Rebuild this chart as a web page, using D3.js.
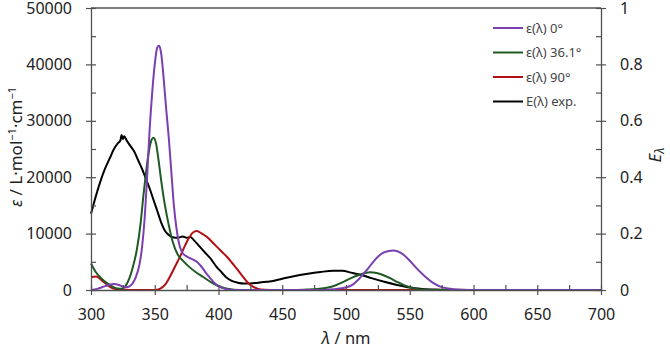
<!DOCTYPE html>
<html>
<head>
<meta charset="utf-8">
<script src="https://cdn.jsdelivr.net/npm/d3@7"></script>
<style>
  body { margin: 0; background: #fff; }
  svg { font-family: "Noto Sans", "Open Sans", sans-serif; }
</style>
</head>
<body>
<svg id="chart" width="670" height="350"></svg>
<script>
// wavelengths (nm) and values
const purpleNm = [300,305,310,314,318,322,326,329,332,335,338,340,342,344,346,348,350,352,353.5,355,357,359,361,363,365,367,369,371,374,377,380,383,386,389,392,395,398,402,406,412,420,480,490,500,505,510,515,520,525,530,537,543,550,556,562,568,574,580,590,600,700];
const purpleEps = [0,200,600,900,1050,900,500,550,1000,2200,4500,7500,12500,20000,28500,35000,40000,43000,43300,42000,37500,32000,27000,21000,15000,11000,8300,6900,6100,5700,5400,5000,4300,3400,2500,1700,1000,450,150,20,0,0,150,450,900,1900,3200,4600,5900,6700,7000,6600,5200,3700,2400,1300,600,250,50,0,0];

const greenNm = [300,304,308,312,317,321,324,327,330,333,336,339,341,343,345,347,349,351,353,355,358,361,364,368,372,377,382,388,394,399,405,412,420,460,470,478,485,492,498,504,510,515,519,524,529,535,540,545,550,556,563,570,700];
const greenEps = [4700,3100,2100,1300,600,250,200,700,2000,4200,7200,12000,16500,20500,24000,26300,27000,26000,23000,19500,15000,11500,8600,6300,5200,4100,3200,2300,1400,800,300,60,0,0,80,200,400,850,1450,2100,2650,3000,3130,3000,2650,2050,1450,900,480,200,60,0,0];

const redNm = [300,304,307,310,314,317,322,330,350,354,358,362,366,370,374,377,380,383,387,391,395,399,403,407,411,415,419,423,427,431,436,445,700];
const redEps = [2300,2400,2000,1400,700,300,80,0,0,200,900,2400,4200,6000,8000,9300,10200,10450,10000,9400,8500,7600,6700,5800,4700,3600,2400,1300,600,200,50,0,0];

// experimental E(lambda), right axis
const expNm = [300,303,307,311,315,318,321,323,324,325,326,328,331,334,337,340,343,346,349,352,355,358,361,364,368,372,375,378,381,384,387,390,394,398,402,406,410,415,420,425,430,435,440,450,460,470,480,490,497,505,513,520,530,540,550,560,570,580,600,700];
const expE = [0.27,0.32,0.38,0.43,0.47,0.50,0.52,0.53,0.55,0.535,0.545,0.53,0.51,0.49,0.46,0.43,0.395,0.36,0.32,0.28,0.24,0.21,0.195,0.187,0.185,0.19,0.185,0.188,0.175,0.16,0.145,0.13,0.11,0.085,0.065,0.045,0.033,0.026,0.023,0.023,0.025,0.028,0.03,0.04,0.05,0.058,0.064,0.068,0.068,0.06,0.052,0.042,0.029,0.018,0.009,0.004,0.0016,0.0005,0,0];

const xTicks = [300,350,400,450,500,550,600,650,700];
const yTicks = [0,10000,20000,30000,40000,50000];
const eTicks = [0,0.2,0.4,0.6,0.8,1];

const legendLabels = ["ε(λ) 0°", "ε(λ) 36.1°", "ε(λ) 90°", "E(λ) exp."];
const colors = ["#7a3fb0", "#1f5a25", "#b30f12", "#000000"];

const svg = d3.select("#chart");
const L = 91, R = 601, T = 8, B = 290;
const axisColor = "#505050";

const x = d3.scaleLinear().domain([300, 700]).range([L, R]);
const y = d3.scaleLinear().domain([0, 50000]).range([B, T]);
const yE = d3.scaleLinear().domain([0, 1]).range([B, T]);

// top border
svg.append("line").attr("x1", L).attr("x2", R).attr("y1", T).attr("y2", T)
  .attr("stroke", axisColor).attr("stroke-width", 1.3);

// curves
function drawLine(nm, vals, scale, color) {
  const pts = nm.map((d, i) => [d, vals[i]]);
  svg.append("path")
    .datum(pts)
    .attr("fill", "none")
    .attr("stroke", color)
    .attr("stroke-width", 2)
    .attr("stroke-linejoin", "round")
    .attr("d", d3.line().x(d => x(d[0])).y(d => scale(d[1])).curve(d3.curveMonotoneX));
}
drawLine(expNm, expE, yE, colors[3]);
drawLine(redNm, redEps, y, colors[2]);
drawLine(greenNm, greenEps, y, colors[1]);
drawLine(purpleNm, purpleEps, y, colors[0]);

function styleAxis(g) {
  g.select(".domain").attr("stroke", axisColor).attr("stroke-width", 1.3);
  g.selectAll(".tick line").attr("stroke", axisColor).attr("stroke-width", 1.2);
  g.selectAll(".tick text").attr("fill", "#222").style("font-size", "16px")
    .style("font-family", "'Noto Sans', 'Open Sans', sans-serif");
}

// x axis: minor ticks inside, major crossing
const xMinor = d3.range(325, 700, 50);
svg.append("g").attr("transform", `translate(0,${B})`)
  .call(d3.axisBottom(x).tickValues(xMinor).tickSize(-5).tickFormat(""))
  .call(g => { g.select(".domain").remove(); g.selectAll(".tick line").attr("stroke", axisColor).attr("stroke-width", 1.2); });
const gx = svg.append("g").attr("transform", `translate(0,${B})`)
  .call(d3.axisBottom(x).tickValues(xTicks).tickSize(5).tickSizeOuter(0).tickPadding(14));
gx.selectAll(".tick line").attr("y1", -5);
styleAxis(gx);

// left axis
svg.append("g").attr("transform", `translate(${L},0)`)
  .call(d3.axisRight(y).tickValues(d3.range(5000, 50000, 10000)).tickSize(5).tickFormat(""))
  .call(g => { g.select(".domain").remove(); g.selectAll(".tick line").attr("stroke", axisColor).attr("stroke-width", 1.2); });
const gy = svg.append("g").attr("transform", `translate(${L},0)`)
  .call(d3.axisLeft(y).tickValues(yTicks).tickSize(5).tickSizeOuter(0).tickPadding(14).tickFormat(d3.format("d")));
gy.selectAll(".tick line").attr("x1", 5);
styleAxis(gy);

// right axis
svg.append("g").attr("transform", `translate(${R},0)`)
  .call(d3.axisLeft(yE).tickValues(d3.range(0.1, 1, 0.2)).tickSize(5).tickFormat(""))
  .call(g => { g.select(".domain").remove(); g.selectAll(".tick line").attr("stroke", axisColor).attr("stroke-width", 1.2); });
const gr = svg.append("g").attr("transform", `translate(${R},0)`)
  .call(d3.axisRight(yE).tickValues(eTicks).tickSize(5).tickSizeOuter(0).tickPadding(14).tickFormat(d => d3.format("")(+d.toFixed(1))));
gr.selectAll(".tick line").attr("x1", -5);
styleAxis(gr);

// axis titles
const xt = svg.append("text").attr("x", (L + R) / 2).attr("y", 344)
  .attr("text-anchor", "middle").attr("fill", "#222").style("font-size", "16.5px");
xt.append("tspan").attr("font-style", "italic").text("λ");
xt.append("tspan").text(" / nm");

const yt = svg.append("text").attr("transform", "translate(22,147) rotate(-90)")
  .attr("text-anchor", "middle").attr("fill", "#222").style("font-size", "17px");
yt.append("tspan").attr("font-style", "italic").text("ε");
yt.append("tspan").text(" / L·mol");
yt.append("tspan").attr("dy", -6).style("font-size", "11px").text("−1");
yt.append("tspan").attr("dy", 6).text("·cm");
yt.append("tspan").attr("dy", -6).style("font-size", "11px").text("−1");

const rt = svg.append("text").attr("transform", "translate(661,155) rotate(-90)")
  .attr("text-anchor", "middle").attr("fill", "#222").style("font-size", "17px");
rt.append("tspan").attr("font-style", "italic").text("E");
rt.append("tspan").attr("dy", 3).attr("font-style", "italic").style("font-size", "12px").text("λ");

// legend
const leg = svg.append("g").selectAll("g").data(legendLabels).join("g")
  .attr("transform", (d, i) => `translate(493,${28 + i * 24.5})`);
leg.append("line").attr("x1", 0).attr("x2", 30).attr("stroke", (d, i) => colors[i]).attr("stroke-width", 2);
leg.append("text").attr("x", 33).attr("dy", "0.35em").attr("fill", "#444")
  .style("font-size", "13px").text(d => d);
</script>
</body>
</html>
